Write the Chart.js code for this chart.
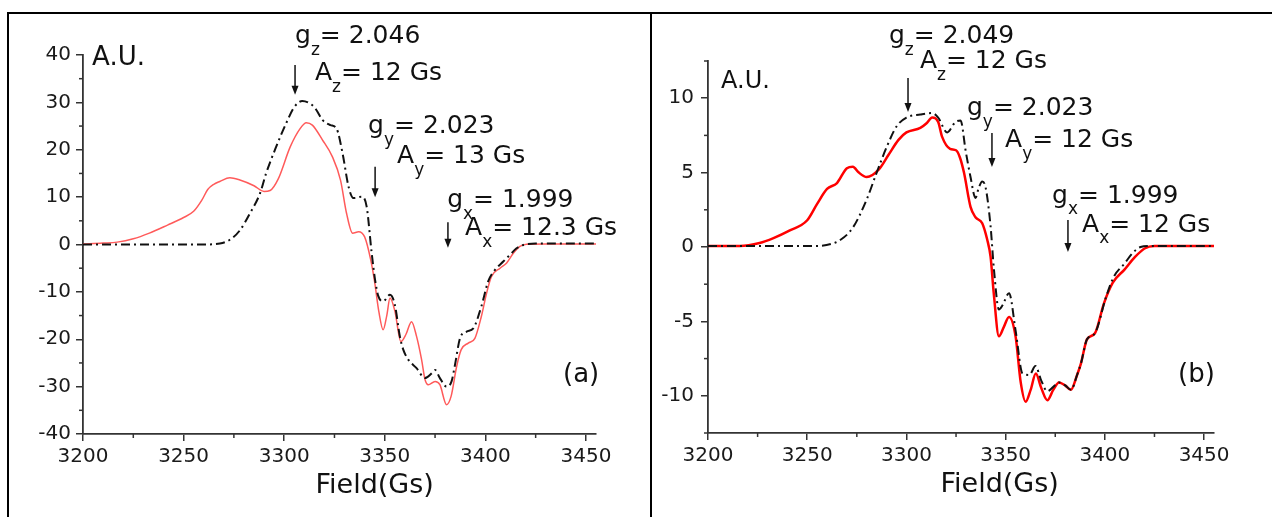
<!DOCTYPE html>
<html>
<head>
<meta charset="utf-8">
<script src="https://cdn.jsdelivr.net/npm/chart.js@4.4.1/dist/chart.umd.min.js"></script>
<style>
html, body { margin: 0; padding: 0; background: #fff; }
body { width: 1272px; height: 517px; position: relative; overflow: hidden; }
canvas { position: absolute; top: 0; }
#chartA { left: 0; }
#chartB { left: 640px; }
.frame { position: absolute; left: 7px; top: 12px; width: 1300px; height: 600px; border-top: 2px solid #000; border-left: 2px solid #000; }
.divider { position: absolute; left: 650px; top: 12px; width: 2px; height: 600px; background: #000; }
</style>
</head>
<body>
<canvas id="chartA" width="640" height="517"></canvas>
<canvas id="chartB" width="632" height="517"></canvas>
<div class="frame"></div>
<div class="divider"></div>
<script>
// panel (a): experiment (red) and simulation (dash-dot)
const fieldAExp = [3200, 3210, 3217, 3225, 3233, 3242, 3250, 3255, 3259, 3262, 3265, 3268, 3273, 3278, 3285, 3290, 3293, 3297, 3303, 3308, 3311, 3314, 3319, 3324, 3328, 3331, 3334, 3337, 3340, 3343, 3345, 3347, 3349.2, 3351, 3352.6, 3355, 3358, 3360.5, 3363.3, 3365.8, 3368.3, 3370, 3371.6, 3375, 3377.4, 3380.7, 3383, 3385.7, 3388, 3391.5, 3394.8, 3398, 3400.6, 3403, 3407.3, 3410.6, 3414, 3417.2, 3420.5, 3430, 3455];
const signalAExp = [0.1, 0.3, 0.5, 1.2, 2.4, 4.1, 5.7, 7.0, 9.3, 11.6, 12.7, 13.3, 14.1, 13.6, 12.4, 11.2, 11.4, 13.8, 20.6, 24.5, 25.7, 25.2, 22.1, 18.5, 13.6, 6.6, 2.4, 2.7, 1.6, -3.2, -8, -14, -18, -15, -11.3, -14, -20.5, -19, -16.3, -19.4, -24.3, -28.5, -29.6, -28.9, -29.6, -33.8, -32, -25.8, -22.2, -20.8, -19.8, -15.2, -10.3, -6.8, -5, -3.9, -1.8, -0.4, 0.06, 0.1, 0.1];

const fieldASim = [3200, 3260, 3268, 3273, 3278, 3283, 3288, 3291, 3296, 3301, 3305, 3309, 3314, 3316, 3319, 3323, 3326, 3329, 3332, 3334.4, 3338.5, 3341, 3343.5, 3345.2, 3346.8, 3349.2, 3352.6, 3355, 3357.5, 3359.2, 3361.7, 3365.8, 3370, 3373.3, 3375, 3377.4, 3380.7, 3383.2, 3384.9, 3387.4, 3390.7, 3394, 3398, 3401.4, 3404.7, 3408.9, 3412.2, 3415.5, 3418.9, 3425, 3455];
const signalASim = [0, 0, 0.2, 1, 3, 6.6, 10.8, 15, 20.6, 25.6, 29, 30.3, 29.4, 28.4, 26.3, 25.2, 24.5, 19.3, 12.2, 9.8, 10.1, 8, -1.8, -7.5, -10.9, -12, -10.6, -12.7, -19.4, -22.2, -24.3, -26.1, -28.2, -27.2, -26.5, -28.2, -30, -28.9, -25.4, -19.8, -18.4, -17.7, -13.1, -7.8, -5.4, -3.6, -2.2, -0.8, -0.1, 0.2, 0.2];

// panel (b)
const fieldBExp = [3200, 3216, 3226, 3233, 3241, 3250, 3255, 3260, 3265, 3270, 3273, 3276, 3280, 3286, 3291, 3296, 3300, 3307, 3310, 3313, 3316, 3318, 3322, 3325, 3327, 3329, 3332.3, 3334.8, 3338.2, 3340.7, 3342.4, 3344, 3346.6, 3349, 3351.7, 3355, 3357.6, 3360.1, 3362.6, 3365.2, 3368, 3371, 3374, 3376.9, 3380, 3382.8, 3386, 3388, 3391, 3395, 3399.5, 3404, 3410, 3415, 3420, 3425, 3455];
const signalBExp = [0.07, 0.07, 0.27, 0.6, 1.1, 1.8, 2.9, 3.9, 4.3, 5.3, 5.4, 5.0, 4.7, 5.2, 6.2, 7.2, 7.7, 8.0, 8.3, 8.7, 8.4, 7.4, 6.6, 6.5, 6.0, 5.0, 2.7, 2.0, 1.6, 0.5, -0.65, -3.1, -6.0, -5.4, -4.7, -6.0, -9.1, -10.4, -9.6, -8.5, -9.5, -10.3, -9.6, -9.1, -9.3, -9.6, -8.6, -7.8, -6.2, -5.8, -3.8, -2.4, -1.5, -0.7, -0.1, 0.07, 0.07];

const fieldBSim = [3200, 3255, 3262, 3267, 3273, 3280, 3285, 3290, 3295, 3300, 3307, 3313, 3316, 3320.5, 3324.7, 3327.3, 3329.8, 3332.3, 3334.8, 3336.5, 3338.2, 3339.9, 3342.4, 3344.1, 3346.6, 3348.5, 3351.7, 3355, 3358.5, 3362, 3365, 3368, 3371, 3374, 3377, 3380, 3383, 3386, 3388, 3391, 3395, 3400.5, 3404.5, 3410, 3414, 3418, 3422, 3455];
const signalBSim = [0.07, 0.07, 0.2, 0.5, 1.3, 3.2, 5.0, 6.7, 8.1, 8.7, 8.9, 9.0, 8.7, 7.7, 8.4, 8.5, 6.5, 4.7, 3.3, 4.0, 4.4, 4.0, 1.4, -1.5, -4.2, -3.9, -3.1, -5.6, -8.5, -8.6, -8.0, -9.0, -9.7, -9.4, -9.1, -9.3, -9.6, -8.6, -7.8, -6.2, -5.8, -3.4, -2.0, -1.1, -0.4, 0.0, 0.07, 0.07];

const fieldTicks = [3200, 3250, 3300, 3350, 3400, 3450];
const fieldMinor = [3225, 3275, 3325, 3375, 3425];
const yTicksA = [-40, -30, -20, -10, 0, 10, 20, 30, 40];
const yMinorA = [-35, -25, -15, -5, 5, 15, 25, 35];
const yTicksB = [-10, -5, 0, 5, 10];
const yMinorB = [-12.5, -7.5, -2.5, 2.5, 7.5, 12.5];

const FONT = '"DejaVu Sans", sans-serif';

function toPoints(xs, ys) {
    return xs.map((x, i) => ({ x: x, y: ys[i] }));
}

function drawLabel(ctx, x, y, main, sub, rest, size) {
    ctx.font = size + 'px ' + FONT;
    ctx.fillText(main, x, y);
    x += ctx.measureText(main).width;
    if (sub) {
        ctx.font = Math.round(size * 0.68) + 'px ' + FONT;
        ctx.fillText(sub, x, y + size * 0.46);
        x += ctx.measureText(sub).width;
    }
    ctx.font = size + 'px ' + FONT;
    ctx.fillText(rest, x, y);
}

const eprPlugin = {
    id: 'epr',
    afterDraw(chart, args, opts) {
        const ctx = chart.ctx;
        const xs = chart.scales.x;
        const ys = chart.scales.y;
        ctx.save();
        // minor ticks
        ctx.strokeStyle = '#333';
        ctx.lineWidth = 1.5;
        opts.xMinor.forEach(v => {
            const px = xs.getPixelForValue(v);
            ctx.beginPath();
            ctx.moveTo(px, ys.bottom);
            ctx.lineTo(px, ys.bottom + 4);
            ctx.stroke();
        });
        opts.yMinor.forEach(v => {
            const py = ys.getPixelForValue(v);
            ctx.beginPath();
            ctx.moveTo(xs.left, py);
            ctx.lineTo(xs.left - 4, py);
            ctx.stroke();
        });
        // arrows
        ctx.strokeStyle = '#111';
        ctx.fillStyle = '#111';
        opts.arrows.forEach(a => {
            const px = xs.getPixelForValue(a.x);
            const top = ys.getPixelForValue(a.top);
            const bot = ys.getPixelForValue(a.bottom);
            ctx.lineWidth = 1.5;
            ctx.beginPath();
            ctx.moveTo(px, top);
            ctx.lineTo(px, bot - 8);
            ctx.stroke();
            ctx.beginPath();
            ctx.moveTo(px - 3.5, bot - 9);
            ctx.lineTo(px + 3.5, bot - 9);
            ctx.lineTo(px, bot);
            ctx.closePath();
            ctx.fill();
        });
        // labels
        ctx.textBaseline = 'alphabetic';
        ctx.textAlign = 'left';
        opts.labels.forEach(l => {
            drawLabel(ctx, xs.getPixelForValue(l.x), ys.getPixelForValue(l.y), l.main, l.sub, l.rest, l.size);
        });
        // axis title
        ctx.font = '27px ' + FONT;
        ctx.textAlign = 'center';
        ctx.fillText('Field(Gs)', xs.getPixelForValue(opts.titleX), ys.bottom + 59);
        ctx.restore();
    }
};

function makeChart(id, cfg) {
    return new Chart(document.getElementById(id), {
        type: 'line',
        data: {
            datasets: [
                {
                    data: toPoints(cfg.simX, cfg.simY),
                    borderColor: '#111',
                    borderWidth: 2,
                    borderDash: [9, 4, 2, 4],
                    pointRadius: 0,
                    cubicInterpolationMode: 'monotone'
                },
                {
                    data: toPoints(cfg.expX, cfg.expY),
                    borderColor: cfg.redColor,
                    borderWidth: cfg.redWidth,
                    pointRadius: 0,
                    cubicInterpolationMode: 'monotone'
                }
            ]
        },
        options: {
            responsive: false,
            animation: false,
            devicePixelRatio: 1,
            layout: { padding: cfg.padding },
            plugins: {
                legend: { display: false },
                tooltip: { enabled: false },
                epr: cfg.epr
            },
            scales: {
                x: {
                    type: 'linear',
                    min: 3200,
                    max: 3455,
                    grid: { drawOnChartArea: false, tickLength: 7, color: '#333', lineWidth: 1.5 },
                    border: { color: '#333', width: 1.8 },
                    ticks: {
                        font: { family: FONT, size: 20 },
                        color: '#1a1a1a',
                        padding: 4,
                        maxRotation: 0,
                        autoSkip: false,
                        callback: v => String(v)
                    },
                    afterBuildTicks: s => { s.ticks = fieldTicks.map(v => ({ value: v })); },
                    afterFit: s => { s.height = cfg.xHeight; }
                },
                y: {
                    min: cfg.yMin,
                    max: cfg.yMax,
                    grid: { drawOnChartArea: false, tickLength: 7, color: '#333', lineWidth: 1.5 },
                    border: { color: '#333', width: 1.8 },
                    ticks: {
                        font: { family: FONT, size: 20 },
                        color: '#1a1a1a',
                        padding: cfg.yPad,
                        autoSkip: false,
                        callback: v => String(v)
                    },
                    afterBuildTicks: s => { s.ticks = cfg.yTicks.map(v => ({ value: v })); },
                    afterFit: s => { s.width = cfg.yWidth; }
                }
            }
        },
        plugins: [eprPlugin]
    });
}

makeChart('chartA', {
    expX: fieldAExp, expY: signalAExp, simX: fieldASim, simY: signalASim,
    redColor: 'rgb(255, 90, 90)', redWidth: 1.5,
    padding: { left: 0, top: 55, right: 44, bottom: 0 },
    xHeight: 83, yWidth: 83, yPad: 5,
    yMin: -40, yMax: 40, yTicks: yTicksA,
    epr: {
        xMinor: fieldMinor, yMinor: yMinorA, titleX: 3345,
        arrows: [
            { x: 3305.4, top: 37.9, bottom: 31.6 },
            { x: 3345.2, top: 16.4, bottom: 10.0 },
            { x: 3381.4, top: 4.7, bottom: -0.7 }
        ],
        labels: [
            { x: 3204.5, y: 37.9, main: 'A.U.', sub: '', rest: '', size: 26 },
            { x: 3305.4, y: 42.5, main: 'g', sub: 'z', rest: '= 2.046', size: 25 },
            { x: 3315.3, y: 34.7, main: 'A', sub: 'z', rest: '= 12 Gs', size: 25 },
            { x: 3341.7, y: 23.5, main: 'g', sub: 'y', rest: '= 2.023', size: 25 },
            { x: 3356.1, y: 17.2, main: 'A', sub: 'y', rest: '= 13 Gs', size: 25 },
            { x: 3381.0, y: 7.9, main: 'g', sub: 'x', rest: '= 1.999', size: 25 },
            { x: 3389.9, y: 2.0, main: 'A', sub: 'x', rest: '= 12.3 Gs', size: 25 },
            { x: 3438.6, y: -29.0, main: '(a)', sub: '', rest: '', size: 26 }
        ]
    }
});

makeChart('chartB', {
    expX: fieldBExp, expY: signalBExp, simX: fieldBSim, simY: signalBSim,
    redColor: 'rgb(255, 0, 0)', redWidth: 2.5,
    padding: { left: 0, top: 61, right: 58, bottom: 0 },
    xHeight: 84, yWidth: 68, yPad: 7,
    yMin: -12.5, yMax: 12.5, yTicks: yTicksB,
    epr: {
        xMinor: fieldMinor, yMinor: yMinorB, titleX: 3347,
        arrows: [
            { x: 3300.8, top: 11.36, bottom: 9.07 },
            { x: 3343.1, top: 7.66, bottom: 5.38 },
            { x: 3381.4, top: 1.81, bottom: -0.34 }
        ],
        labels: [
            { x: 3206.6, y: 10.69, main: 'A.U.', sub: '', rest: '', size: 24 },
            { x: 3291.2, y: 13.7, main: 'g', sub: 'z', rest: '= 2.049', size: 25 },
            { x: 3306.8, y: 12.0, main: 'A', sub: 'z', rest: '= 12 Gs', size: 25 },
            { x: 3330.5, y: 8.87, main: 'g', sub: 'y', rest: '= 2.023', size: 25 },
            { x: 3349.7, y: 6.72, main: 'A', sub: 'y', rest: '= 12 Gs', size: 25 },
            { x: 3373.4, y: 2.96, main: 'g', sub: 'x', rest: '= 1.999', size: 25 },
            { x: 3388.5, y: 1.01, main: 'A', sub: 'x', rest: '= 12 Gs', size: 25 },
            { x: 3436.9, y: -9.07, main: '(b)', sub: '', rest: '', size: 26 }
        ]
    }
});
</script>
</body>
</html>
